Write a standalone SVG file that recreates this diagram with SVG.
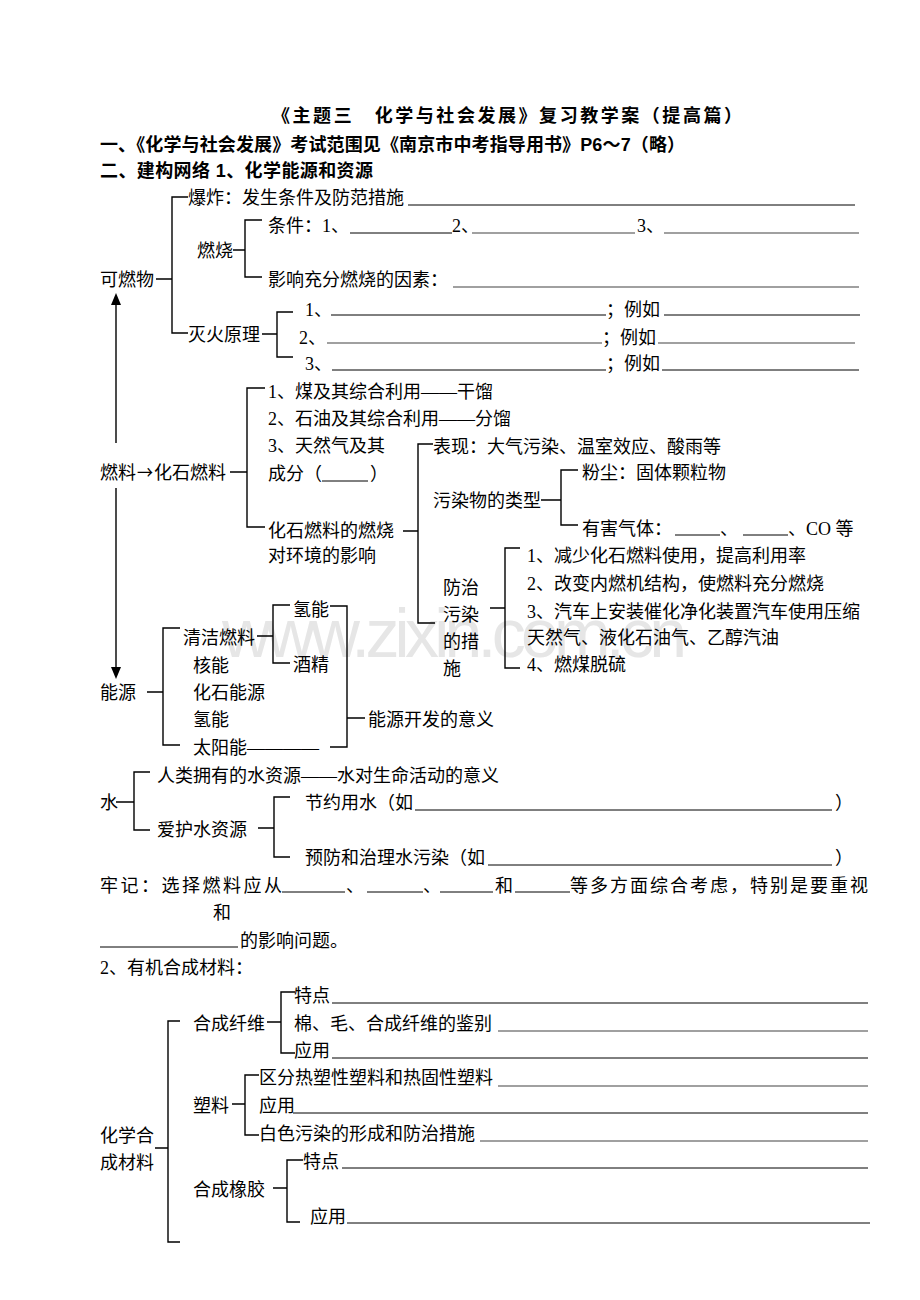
<svg xmlns="http://www.w3.org/2000/svg" width="920" height="1300" viewBox="0 0 920 1300">
<style>
.t{font-family:"Liberation Serif","Noto Sans CJK SC",serif;font-size:18px;fill:#000}
.a{font-family:"Noto Sans CJK SC","DejaVu Sans",sans-serif;font-size:18px;fill:#000}
.h{font-family:"Liberation Sans","Noto Sans CJK SC",sans-serif;font-weight:bold;font-size:18px;fill:#000}
.c{stroke:#000;stroke-width:1.4;fill:none}
.u{stroke:#000;stroke-width:1;fill:none}
.g{stroke:#808080;stroke-width:1.6;fill:none}
.wm{font-family:"Liberation Sans",sans-serif;font-size:68px;fill:#e6e6e6}
</style>
<rect width="920" height="1300" fill="#fff"/>
<text class="wm" x="222" y="657" textLength="465">www.zixin.com.cn</text>

<g id="headings">
<text class="h" x="272" y="122" font-size="19" textLength="470">《主题三　化学与社会发展》复习教学案（提高篇）</text>
<text class="h" x="100" y="151" textLength="585">一、《化学与社会发展》考试范围见《南京市中考指导用书》P6～7（略）</text>
<text class="h" x="100" y="177" textLength="273">二、建构网络 1、化学能源和资源</text>
</g>

<g id="connectors">
<path class="c" d="M156,279H172M188,197H172V333H188"/>
<path class="c" d="M233,250H245M262,220H245V277H262"/>
<path class="c" d="M262,334H277M293,312H277V357H293"/>
<path class="c" d="M230,472H247M265,388H247V527H265"/>
<path class="c" d="M403,531H418M433,444H418V623H435"/>
<path class="c" d="M541,500H561M578,470H561V525H578"/>
<path class="c" d="M490,608H505M520,548H505V668H520"/>
<path class="c" d="M147,692H163M180,628H163V745H180"/>
<path class="c" d="M257,636H273M290,605H273V663H290"/>
<path class="c" d="M330,606H347V747H330M347,718H365"/>
<path class="c" d="M116,802H134M150,772H134V830H150"/>
<path class="c" d="M258,828H274M290,797H274V857H290"/>
<path class="c" d="M155,1148H168M180,1021H168V1242H180"/>
<path class="c" d="M267,1022H281M295,992H281V1053H295"/>
<path class="c" d="M232,1104H245M259,1075H245V1135H259"/>
<path class="c" d="M273,1188H287M303,1160H287V1222H300"/>
<path class="c" d="M116,443V303M116,488V668"/>
<polygon points="116,293 111,305 121,305" fill="#000"/>
<polygon points="116,679 111,667 121,667" fill="#000"/>
</g>

<g id="n-baozha">
<text class="t" x="188" y="204">爆炸：发生条件及防范措施</text>
<line class="u" x1="408" y1="205" x2="855" y2="205"/>
</g>
<g id="n-kerangwu"><text class="t" x="100" y="286">可燃物</text></g>
<g id="n-ranshao"><text class="t" x="197" y="257">燃烧</text></g>
<g id="n-tiaojian">
<text class="t" x="268" y="232">条件：1、</text>
<line class="u" x1="350" y1="233" x2="452" y2="233"/>
<text class="t" x="452" y="232">2、</text>
<line class="g" x1="472" y1="233" x2="635" y2="233"/>
<text class="t" x="637" y="232">3、</text>
<line class="g" x1="664" y1="233" x2="859" y2="233"/>
</g>
<g id="n-yingxiang">
<text class="t" x="268" y="286">影响充分燃烧的因素：</text>
<line class="g" x1="453" y1="287" x2="859" y2="287"/>
</g>
<g id="n-miehuo"><text class="t" x="188" y="341">灭火原理</text></g>
<g id="n-mh1">
<text class="t" x="305" y="316">1、</text>
<line class="u" x1="331" y1="315" x2="606" y2="315"/>
<text class="t" x="606" y="316">；例如</text>
<line class="u" x1="664" y1="315" x2="860" y2="315"/>
</g>
<g id="n-mh2">
<text class="t" x="299" y="344">2、</text>
<line class="g" x1="327" y1="343" x2="602" y2="343"/>
<text class="t" x="602" y="344">；例如</text>
<line class="g" x1="658" y1="343" x2="855" y2="343"/>
</g>
<g id="n-mh3">
<text class="t" x="305" y="370">3、</text>
<line class="u" x1="332" y1="370" x2="606" y2="370"/>
<text class="t" x="606" y="370">；例如</text>
<line class="u" x1="662" y1="370" x2="859" y2="370"/>
</g>

<g id="n-ranliao">
<text class="t" x="100" y="479">燃料</text>
<text class="a" x="137" y="479" textLength="16" lengthAdjust="spacingAndGlyphs">→</text>
<text class="t" x="154" y="479">化石燃料</text>
</g>
<g id="n-mei"><text class="t" x="268" y="398">1、煤及其综合利用——干馏</text></g>
<g id="n-shiyou"><text class="t" x="268" y="425">2、石油及其综合利用——分馏</text></g>
<g id="n-tianranqi">
<text class="t" x="268" y="452">3、天然气及其</text>
<text class="t" x="268" y="480">成分（</text>
<line class="u" x1="322" y1="481" x2="368" y2="481"/>
<text class="t" x="370" y="480">）</text>
</g>
<g id="n-huanjing">
<text class="t" x="268" y="537">化石燃料的燃烧</text>
<text class="t" x="268" y="562">对环境的影响</text>
</g>
<g id="n-biaoxian"><text class="t" x="433" y="453">表现：大气污染、温室效应、酸雨等</text></g>
<g id="n-leixing"><text class="t" x="433" y="507">污染物的类型</text></g>
<g id="n-fenchen"><text class="t" x="582" y="479">粉尘：固体颗粒物</text></g>
<g id="n-youhai">
<text class="t" x="582" y="535">有害气体：</text>
<line class="u" x1="675" y1="535" x2="720" y2="535"/>
<text class="t" x="720" y="535">、</text>
<line class="u" x1="743" y1="535" x2="788" y2="535"/>
<text class="t" x="788" y="535">、CO 等</text>
</g>
<g id="n-fangzhi">
<text class="t" x="443" y="594">防治</text>
<text class="t" x="443" y="621">污染</text>
<text class="t" x="443" y="648">的措</text>
<text class="t" x="443" y="675">施</text>
</g>
<g id="n-fz1"><text class="t" x="527" y="562">1、减少化石燃料使用，提高利用率</text></g>
<g id="n-fz2"><text class="t" x="527" y="590">2、改变内燃机结构，使燃料充分燃烧</text></g>
<g id="n-fz3">
<text class="t" x="527" y="618">3、汽车上安装催化净化装置汽车使用压缩</text>
<text class="t" x="527" y="644">天然气、液化石油气、乙醇汽油</text>
</g>
<g id="n-fz4"><text class="t" x="527" y="671">4、燃煤脱硫</text></g>

<g id="n-nengyuan"><text class="t" x="100" y="699">能源</text></g>
<g id="n-qingjie"><text class="t" x="183" y="644">清洁燃料</text></g>
<g id="n-qingneng1"><text class="t" x="293" y="616">氢能</text></g>
<g id="n-jiujing"><text class="t" x="293" y="671">酒精</text></g>
<g id="n-heneng"><text class="t" x="193" y="672">核能</text></g>
<g id="n-huashi"><text class="t" x="193" y="699">化石能源</text></g>
<g id="n-qingneng2"><text class="t" x="193" y="726">氢能</text></g>
<g id="n-taiyang"><text class="t" x="193" y="754">太阳能————</text></g>
<g id="n-yiyi"><text class="t" x="368" y="726">能源开发的意义</text></g>

<g id="n-shui"><text class="t" x="100" y="809">水</text></g>
<g id="n-renlei"><text class="t" x="157" y="782">人类拥有的水资源——水对生命活动的意义</text></g>
<g id="n-aihu"><text class="t" x="157" y="836">爱护水资源</text></g>
<g id="n-jieyue">
<text class="t" x="305" y="809">节约用水（如</text>
<line class="u" x1="415" y1="810" x2="832" y2="810"/>
<text class="t" x="835" y="809">）</text>
</g>
<g id="n-yufang">
<text class="t" x="305" y="864">预防和治理水污染（如</text>
<line class="u" x1="488" y1="865" x2="832" y2="865"/>
<text class="t" x="835" y="864">）</text>
</g>

<g id="n-laoji">
<text class="t" x="100" y="892" textLength="182">牢记：选择燃料应从</text>
<line class="u" x1="282" y1="892" x2="345" y2="892"/>
<text class="t" x="346" y="892">、</text>
<line class="u" x1="367" y1="892" x2="423" y2="892"/>
<text class="t" x="423" y="892">、</text>
<line class="u" x1="440" y1="892" x2="493" y2="892"/>
<text class="t" x="495" y="892">和</text>
<line class="u" x1="515" y1="892" x2="570" y2="892"/>
<text class="t" x="570" y="892" textLength="298">等多方面综合考虑，特别是要重视</text>
<text class="t" x="213" y="919">和</text>
<line class="u" x1="100" y1="947" x2="238" y2="947"/>
<text class="t" x="240" y="947">的影响问题。</text>
</g>

<g id="n-youji"><text class="t" x="100" y="974">2、有机合成材料：</text></g>
<g id="n-hecheng"><text class="t" x="100" y="1142">化学合</text><text class="t" x="100" y="1169">成材料</text></g>
<g id="n-xianwei"><text class="t" x="193" y="1030">合成纤维</text></g>
<g id="n-xw1"><text class="t" x="294" y="1002">特点</text><line class="u" x1="332" y1="1003" x2="868" y2="1003"/></g>
<g id="n-xw2"><text class="t" x="294" y="1030">棉、毛、合成纤维的鉴别</text><line class="g" x1="498" y1="1031" x2="868" y2="1031"/></g>
<g id="n-xw3"><text class="t" x="294" y="1057">应用</text><line class="u" x1="332" y1="1058" x2="868" y2="1058"/></g>
<g id="n-suliao"><text class="t" x="193" y="1112">塑料</text></g>
<g id="n-sl1"><text class="t" x="259" y="1084">区分热塑性塑料和热固性塑料</text><line class="g" x1="498" y1="1086" x2="868" y2="1086"/></g>
<g id="n-sl2"><text class="t" x="259" y="1112">应用</text><line class="u" x1="293" y1="1113" x2="868" y2="1113"/></g>
<g id="n-sl3"><text class="t" x="259" y="1140">白色污染的形成和防治措施</text><line class="g" x1="480" y1="1141" x2="868" y2="1141"/></g>
<g id="n-xiangjiao"><text class="t" x="193" y="1196">合成橡胶</text></g>
<g id="n-xj1"><text class="t" x="303" y="1168">特点</text><line class="u" x1="342" y1="1168" x2="868" y2="1168"/></g>
<g id="n-xj2"><text class="t" x="310" y="1223">应用</text><line class="u" x1="347" y1="1223" x2="870" y2="1223"/></g>
</svg>
